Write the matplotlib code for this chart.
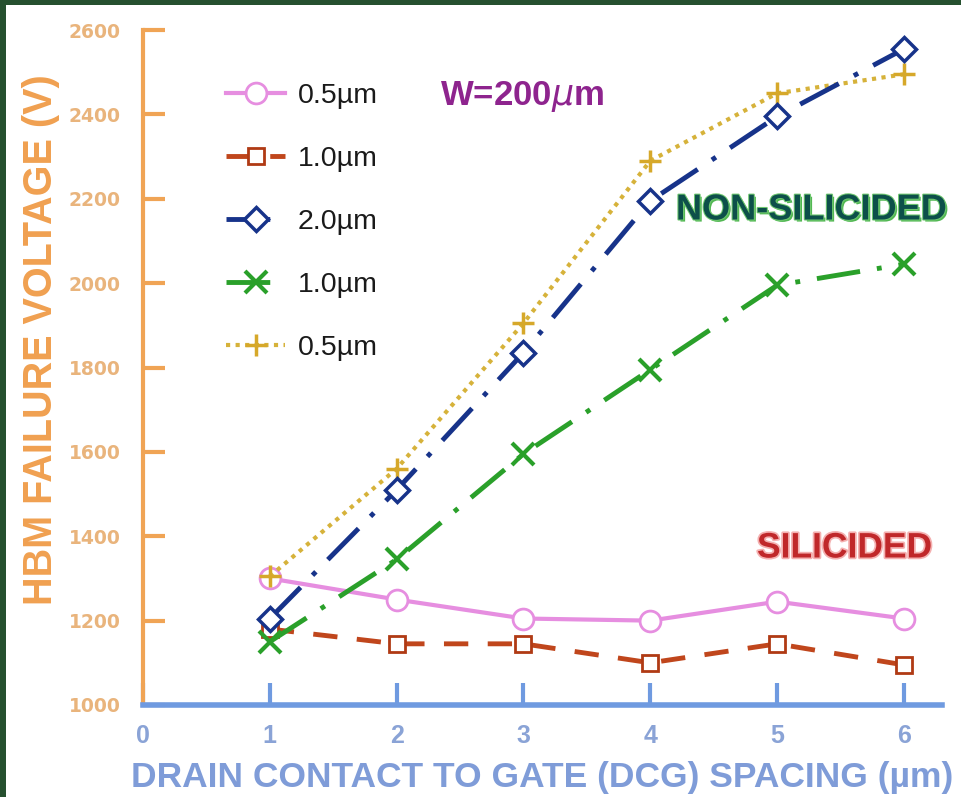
import matplotlib
matplotlib.use("Agg")
import matplotlib.pyplot as plt
import matplotlib.patheffects as pe
from matplotlib.patches import Rectangle

# ---- data ----
dcg = [1, 2, 3, 4, 5, 6]
sil_05 = [1300, 1250, 1205, 1200, 1245, 1205]
sil_10 = [1180, 1145, 1145, 1100, 1145, 1095]
non_20 = [1205, 1510, 1835, 2195, 2395, 2555]
non_10 = [1150, 1345, 1595, 1795, 1995, 2045]
non_05 = [1305, 1560, 1905, 2290, 2450, 2495]
labels = ["0.5\u00b5m", "1.0\u00b5m", "2.0\u00b5m", "1.0\u00b5m", "0.5\u00b5m"]
xticks = [0, 1, 2, 3, 4, 5, 6]
yticks = [1000, 1200, 1400, 1600, 1800, 2000, 2200, 2400, 2600]

W, H = 961, 797
fig = plt.figure(figsize=(W / 100, H / 100), dpi=100, facecolor="#26502f")
fig.patches.append(Rectangle((6 / W, 0), 1, 1 - 5 / H, transform=fig.transFigure,
                             facecolor="white", edgecolor="none", zorder=-10))

ax = fig.add_axes([143 / W, (H - 705) / H, 799 / W, 675 / H])
ax.set_facecolor("none")
ax.set_xlim(0, 6.3)
ax.set_ylim(1000, 2600)

orange = "#f0a455"
blue_ax = "#6f9ae0"

ax.plot(dcg, sil_05, color="#e68ee0", lw=3, marker="o", ms=15, mfc="white",
        mec="#e68ee0", mew=2, label=labels[0], zorder=3)
ax.plot(dcg, sil_10, color="#c0461c", lw=3.5, ls=(0, (5, 4)), marker="s", ms=12,
        mfc="white", mec="#b03a14", mew=2, label=labels[1], zorder=3)
ax.plot(dcg, non_20, color="#17338a", lw=3.5, ls=(0, (9, 3.5, 1, 3.5)), marker="D", ms=12,
        mfc="white", mec="#17338a", mew=2.5, label=labels[2], zorder=4)
ax.plot(dcg, non_10, color="#2aa02a", lw=3.5, ls=(0, (9, 3.5, 1, 3.5)), marker="x", ms=16,
        mec="#2aa02a", mew=3, label=labels[3], zorder=3)
ax.plot(dcg, non_05, color="#d6b23a", lw=3, ls=(0, (1, 1.3)), marker="+", ms=16,
        mec="#d6a82a", mew=2.5, label=labels[4], zorder=3)

for s in ["top", "right"]:
    ax.spines[s].set_visible(False)
ax.spines["left"].set_color(orange)
ax.spines["left"].set_linewidth(3)
ax.spines["bottom"].set_color(blue_ax)
ax.spines["bottom"].set_linewidth(4)

ax.set_yticks(yticks)
ax.set_yticklabels([str(v) for v in yticks], family=["Liberation Sans Narrow", "DejaVu Sans"],
                   fontweight="bold", fontsize=13.5, color="#e9b47c")
ax.tick_params(axis="y", direction="in", length=16, width=3, color=orange, pad=16)
ax.set_xticks(xticks)
ax.set_xticklabels([str(v) for v in xticks], family="Liberation Sans", fontsize=18,
                   fontweight="bold", color="#8aa3d6")
ax.tick_params(axis="x", direction="in", length=16, width=3, color=blue_ax, pad=14)

ax.set_ylabel("HBM FAILURE VOLTAGE (V)", family="Liberation Sans", fontweight="bold",
              fontsize=28.5, color="#f0a050")
ax.yaxis.set_label_coords(-0.104, 0.541)
ax.set_xlabel("DRAIN CONTACT TO GATE (DCG) SPACING (\u00b5m)", family="Liberation Sans",
              fontweight="bold", fontsize=25.5, color="#7f9cd8")
ax.xaxis.set_label_coords(0.5, -0.083)

leg = ax.legend(loc="upper left", bbox_to_anchor=(72 / 799, 1 - 42 / 675), frameon=False,
                prop={"family": "Liberation Sans", "size": 20.5}, handlelength=2.05,
                handletextpad=0.45, labelspacing=1.3, borderaxespad=0)
for t in leg.get_texts():
    t.set_color("#1a1a1a")

fig.text(440 / W, 1 - 97 / H, "W=200$\\mu$m", family="Liberation Sans", fontweight="bold",
         fontsize=25, color="#8e248e", va="center", ha="left")
fig.text(676 / W, 1 - 210 / H, "NON-SILICIDED", family="Liberation Sans", fontweight="bold",
         fontsize=26, color="#0d4f4a", va="center", ha="left",
         path_effects=[pe.SimplePatchShadow(offset=(1.5, -1.5), shadow_rgbFace="#3fb040", alpha=0.9),
                       pe.withStroke(linewidth=1.5, foreground="#6fc86f")])
fig.text(757 / W, 1 - 548 / H, "SILICIDED", family="Liberation Sans", fontweight="bold",
         fontsize=25.5, color="#c0282a", va="center", ha="left",
         path_effects=[pe.withStroke(linewidth=2.5, foreground="#f4b0b0")])

fig.savefig("out.png", dpi=100, facecolor=fig.get_facecolor())
